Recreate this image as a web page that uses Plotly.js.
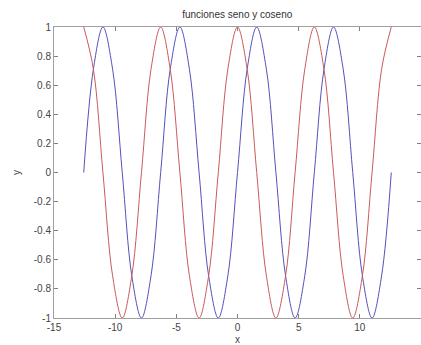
<!DOCTYPE html>
<html>
<head>
<meta charset="utf-8">
<script src="https://cdn.plot.ly/plotly-3.0.1.min.js"></script>
<style>html,body{margin:0;padding:0;background:#fff;}#chart{width:421px;height:345px;}</style>
</head>
<body>
<div id="chart"></div>
<script>
// x samples (steps of about 0.785)
var xValues = [-12.57, -11.78, -11.00, -10.21, -9.42, -8.64, -7.85, -7.07, -6.28, -5.50, -4.71, -3.93, -3.14, -2.36, -1.57, -0.79, 0,
  0.79, 1.57, 2.36, 3.14, 3.93, 4.71, 5.50, 6.28, 7.07, 7.85, 8.64, 9.42, 10.21, 11.00, 11.78, 12.57];
// blue curve (seno)
var senoValues = [0, 0.71, 1, 0.71, 0, -0.71, -1, -0.71, 0, 0.71, 1, 0.71, 0, -0.71, -1, -0.71, 0,
  0.71, 1, 0.71, 0, -0.71, -1, -0.71, 0, 0.71, 1, 0.71, 0, -0.71, -1, -0.71, 0];
// red curve (coseno)
var cosenoValues = [1, 0.71, 0, -0.71, -1, -0.71, 0, 0.71, 1, 0.71, 0, -0.71, -1, -0.71, 0, 0.71, 1,
  0.71, 0, -0.71, -1, -0.71, 0, 0.71, 1, 0.71, 0, -0.71, -1, -0.71, 0, 0.71, 1];
var xTickVals = [-15, -10, -5, 0, 5, 10, 15];
var xTickText = ['-15', '-10', '-5', '0', '5', '10', '15'];
var yTickVals = [-1, -0.8, -0.6, -0.4, -0.2, 0, 0.2, 0.4, 0.6, 0.8, 1];
var yTickText = ['-1', '-0.8', '-0.6', '-0.4', '-0.2', '0', '0.2', '0.4', '0.6', '0.8', '1'];

var traces = [
  {x: xValues, y: senoValues, type: 'scatter', mode: 'lines', name: 'seno',
   line: {color: '#5252bd', width: 1, shape: 'spline', smoothing: 1}},
  {x: xValues, y: cosenoValues, type: 'scatter', mode: 'lines', name: 'coseno',
   line: {color: '#cc5a5a', width: 1, shape: 'spline', smoothing: 1}}
];
var axisCommon = {
  showgrid: false, zeroline: false, showline: true, linecolor: '#a0a0a0', linewidth: 1,
  mirror: 'ticks', ticks: 'inside', ticklen: 4, tickcolor: '#808080',
  tickfont: {family: 'Liberation Sans, Arial, sans-serif', size: 10, color: '#444'},
  automargin: false
};
var layout = {
  width: 421, height: 345,
  margin: {l: 54, r: 0, t: 27, b: 27},
  paper_bgcolor: '#fff', plot_bgcolor: '#fff',
  showlegend: false,
  title: {text: 'funciones seno y coseno', x: 0.5635, xanchor: 'center', y: 0.957, yanchor: 'middle',
          font: {family: 'Liberation Sans, Arial, sans-serif', size: 10, color: '#333'}},
  xaxis: Object.assign({}, axisCommon, {
    range: [-15, 15], tickmode: 'array', tickvals: xTickVals, ticktext: xTickText,
    title: {text: 'x', standoff: 3, font: {family: 'Liberation Sans, Arial, sans-serif', size: 10, color: '#444'}}
  }),
  yaxis: Object.assign({}, axisCommon, {
    range: [-1, 1], tickmode: 'array', tickvals: yTickVals, ticktext: yTickText,
    title: {text: 'y', standoff: 11, font: {family: 'Liberation Sans, Arial, sans-serif', size: 10, color: '#444'}}
  })
};
Plotly.newPlot('chart', traces, layout, {displayModeBar: false, staticPlot: true});
</script>
</body>
</html>
